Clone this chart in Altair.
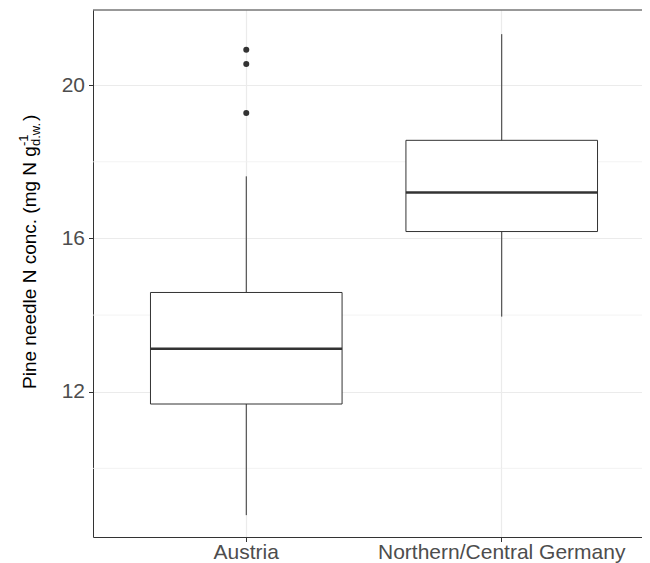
import altair as alt
import pandas as pd

# ---- data ----
regions = ["Austria", "Northern/Central Germany"]
q1 = [11.68, 16.18]
median = [13.12, 17.20]
q3 = [14.59, 18.56]
whisker_low = [8.78, 13.96]
whisker_high = [17.62, 21.33]

outlier_region = ["Austria", "Austria", "Austria"]
outlier_value = [20.92, 20.55, 19.27]

y_ticks = [12, 16, 20]
y_minor = [10, 14, 18]
y_domain = [8.21, 21.96]

title_main = "Pine needle N conc. (mg N g"
title_sup = "-1"
title_sub = "d.w."
title_end = ")"

# ---- styling ----
FONT = "Liberation Sans"
DARK = "#333333"
GRID = "#EBEBEB"
LABEL = "#4D4D4D"

box_df = pd.DataFrame({
    "region": regions, "q1": q1, "median": median, "q3": q3,
    "lo": whisker_low, "hi": whisker_high,
})
out_df = pd.DataFrame({"region": outlier_region, "value": outlier_value})
minor_df = pd.DataFrame({"v": y_minor})
top_df = pd.DataFrame({"v": [y_domain[1]]})

# the panel continues past the right edge of the picture, as in the reference
xscale = alt.Scale(domain=regions, range=[0, 562], paddingInner=0.25, paddingOuter=0.225)
yscale = alt.Scale(domain=y_domain, nice=False, zero=False)

x_axis = alt.Axis(title=None, labelAngle=0, labelFontSize=21, labelColor=LABEL,
                  labelFont=FONT, labelPadding=0, labelLimit=0, tickColor=DARK,
                  tickSize=4.5, tickWidth=1, domain=True, domainColor=DARK,
                  domainWidth=1, grid=True, gridColor=GRID, gridWidth=1.2,
                  bandPosition=0.5)
y_axis = alt.Axis(title=None, values=y_ticks, labelFontSize=21, labelColor=LABEL,
                  labelFont=FONT, labelPadding=4, tickColor=DARK, tickSize=4.5,
                  tickWidth=1, domain=True, domainColor=DARK, domainWidth=1,
                  grid=True, gridColor=GRID, gridWidth=1.2)

x_enc = alt.X("region:N", scale=xscale, sort=regions, axis=x_axis)

def yq(field):
    return alt.Y(field, type="quantitative", scale=yscale, axis=y_axis)

minor = alt.Chart(minor_df).mark_rule(color="#F0F0F0", strokeWidth=0.8).encode(y=yq("v"))

top_border = alt.Chart(top_df).mark_rule(color=DARK, strokeWidth=1).encode(y=yq("v"))

whisker = alt.Chart(box_df).mark_rule(color=DARK, strokeWidth=1).encode(
    x=x_enc, y=yq("lo"), y2="hi")

box = alt.Chart(box_df).mark_bar(fill="white", stroke=DARK, strokeWidth=1).encode(
    x=x_enc, y=yq("q1"), y2="q3")

med = alt.Chart(box_df).mark_tick(color=DARK, thickness=2.6, size=191.6, opacity=1).encode(
    x=x_enc, y=yq("median"))

pts = alt.Chart(out_df).mark_circle(color=DARK, size=36, opacity=1).encode(
    x=x_enc, y=yq("value"))

def title_piece(txt, x, y, size):
    return alt.Chart(pd.DataFrame({"t": [txt]})).mark_text(
        angle=270, align="left", baseline="alphabetic", fontSize=size,
        font=FONT, color="black").encode(
        x=alt.value(x), y=alt.value(y), text="t:N")

t_main = title_piece(title_main, -57, 379, 19)
t_sup = title_piece(title_sup, -65, 136, 13)
t_sub = title_piece(title_sub, -53, 136, 13)
t_end = title_piece(title_end, -57, 111, 19)

chart = alt.layer(minor, top_border, whisker, box, med, pts,
                  t_main, t_sup, t_sub, t_end).properties(
    width=549, height=527,
    autosize=alt.AutoSizeParams(type="none"),
    padding={"left": 85, "top": 2, "right": 0, "bottom": 26},
    background="white",
).configure_view(strokeWidth=0, fill="white")

chart.save("out.html", embed_options={"renderer": "svg", "actions": False})
